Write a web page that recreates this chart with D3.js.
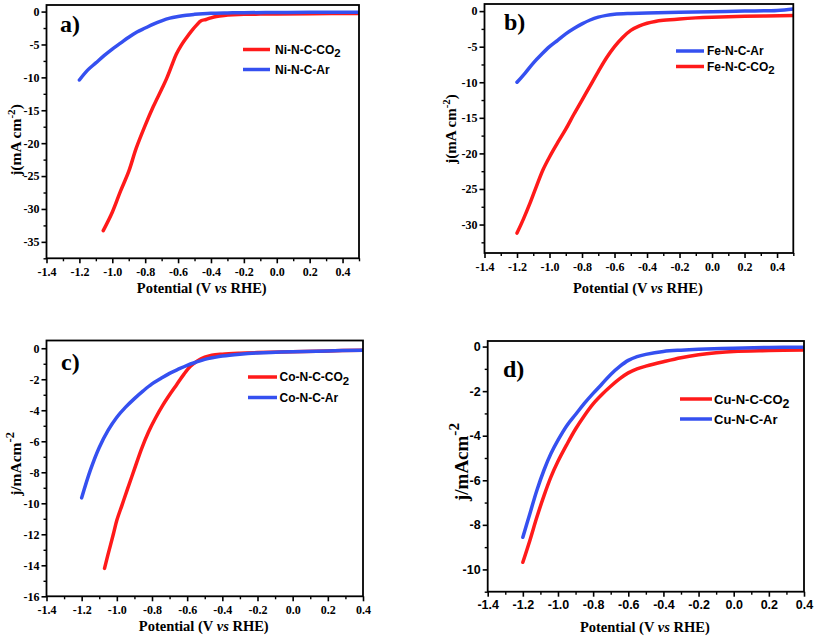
<!DOCTYPE html>
<html><head><meta charset="utf-8">
<script src="https://cdn.jsdelivr.net/npm/d3@7"></script>
<style>body{margin:0;background:#fff}</style></head>
<body><svg id="c" width="817" height="636"></svg>
<script>
// ---------- data ----------
const xTicks = [-1.4,-1.2,-1.0,-0.8,-0.6,-0.4,-0.2,0.0,0.2,0.4];
const aYTicks = [0,-5,-10,-15,-20,-25,-30,-35];
const bYTicks = [0,-5,-10,-15,-20,-25,-30];
const cYTicks = [0,-2,-4,-6,-8,-10,-12,-14,-16];
const dYTicks = [0,-2,-4,-6,-8,-10];

const panelLabels = ["a)","b)","c)","d)"];
const aLegend = ["Ni-N-C-CO2","Ni-N-C-Ar"];
const bLegend = ["Fe-N-C-Ar","Fe-N-C-CO2"];
const cLegend = ["Co-N-C-CO2","Co-N-C-Ar"];
const dLegend = ["Cu-N-C-CO2","Cu-N-C-Ar"];

// [potential V vs RHE, j]
const niCO2 = [[-1.055,-33.3],[-1.0,-30.5],[-0.95,-27.3],[-0.9,-24.3],[-0.855,-20.8],[-0.8,-17.3],[-0.75,-14.4],[-0.7,-11.8],[-0.672,-10.3],[-0.64,-8.3],[-0.611,-6.5],[-0.58,-5.1],[-0.55,-4.0],[-0.52,-3.0],[-0.489,-2.1],[-0.46,-1.4],[-0.43,-1.2],[-0.4,-0.95],[-0.367,-0.75],[-0.32,-0.6],[-0.266,-0.5],[-0.2,-0.42],[-0.1,-0.38],[0,-0.35],[0.2,-0.32],[0.5,-0.3]];
const niAr = [[-1.2,-10.4],[-1.15,-8.9],[-1.1,-7.8],[-1.05,-6.7],[-1.0,-5.7],[-0.95,-4.8],[-0.9,-3.9],[-0.85,-3.1],[-0.8,-2.5],[-0.75,-1.9],[-0.7,-1.4],[-0.65,-1.0],[-0.6,-0.75],[-0.55,-0.55],[-0.5,-0.42],[-0.45,-0.32],[-0.4,-0.25],[-0.3,-0.2],[-0.2,-0.17],[0,-0.14],[0.2,-0.12],[0.5,-0.1]];
const feAr = [[-1.2,-10.0],[-1.15,-8.7],[-1.1,-7.3],[-1.05,-6.1],[-1.0,-5.0],[-0.95,-4.1],[-0.9,-3.2],[-0.85,-2.45],[-0.8,-1.8],[-0.75,-1.25],[-0.7,-0.85],[-0.65,-0.6],[-0.6,-0.45],[-0.5,-0.33],[-0.4,-0.25],[-0.2,-0.17],[0,-0.08],[0.2,0.0],[0.4,0.1],[0.5,0.3]];
const feCO2 = [[-1.2,-31.2],[-1.16,-29.2],[-1.12,-27.0],[-1.08,-24.6],[-1.04,-22.3],[-1.0,-20.5],[-0.95,-18.5],[-0.9,-16.6],[-0.85,-14.5],[-0.8,-12.5],[-0.75,-10.5],[-0.7,-8.5],[-0.65,-6.6],[-0.6,-5.0],[-0.55,-3.7],[-0.5,-2.7],[-0.45,-2.1],[-0.4,-1.7],[-0.35,-1.45],[-0.3,-1.3],[-0.2,-1.1],[-0.1,-0.95],[0,-0.85],[0.2,-0.72],[0.5,-0.62]];
const coCO2 = [[-1.07,-14.2],[-1.05,-13.3],[-1.02,-12.0],[-1.0,-11.1],[-0.97,-10.1],[-0.94,-9.1],[-0.9,-7.8],[-0.86,-6.5],[-0.82,-5.4],[-0.78,-4.5],[-0.74,-3.7],[-0.7,-3.0],[-0.66,-2.35],[-0.62,-1.7],[-0.58,-1.15],[-0.54,-0.8],[-0.5,-0.58],[-0.46,-0.45],[-0.4,-0.38],[-0.3,-0.32],[-0.2,-0.28],[0,-0.22],[0.2,-0.17],[0.4,-0.13]];
const coAr = [[-1.2,-9.65],[-1.15,-7.85],[-1.1,-6.4],[-1.05,-5.3],[-1.0,-4.45],[-0.95,-3.8],[-0.9,-3.25],[-0.85,-2.75],[-0.8,-2.3],[-0.75,-1.95],[-0.7,-1.62],[-0.65,-1.35],[-0.6,-1.1],[-0.55,-0.9],[-0.5,-0.72],[-0.45,-0.6],[-0.4,-0.5],[-0.3,-0.38],[-0.2,-0.3],[0,-0.22],[0.2,-0.17],[0.4,-0.13]];
const cuCO2 = [[-1.2,-9.68],[-1.16,-8.7],[-1.12,-7.65],[-1.08,-6.7],[-1.04,-5.85],[-1.0,-5.15],[-0.95,-4.4],[-0.9,-3.7],[-0.85,-3.1],[-0.8,-2.57],[-0.75,-2.15],[-0.7,-1.78],[-0.65,-1.45],[-0.6,-1.18],[-0.55,-1.0],[-0.5,-0.88],[-0.4,-0.68],[-0.3,-0.5],[-0.2,-0.37],[-0.1,-0.28],[0,-0.22],[0.2,-0.18],[0.4,-0.15]];
const cuAr = [[-1.2,-8.56],[-1.16,-7.5],[-1.12,-6.45],[-1.08,-5.55],[-1.04,-4.8],[-1.0,-4.2],[-0.95,-3.55],[-0.9,-3.05],[-0.85,-2.55],[-0.8,-2.1],[-0.75,-1.68],[-0.7,-1.25],[-0.65,-0.9],[-0.6,-0.62],[-0.55,-0.45],[-0.5,-0.35],[-0.4,-0.22],[-0.3,-0.16],[-0.2,-0.12],[0,-0.07],[0.2,-0.04],[0.4,-0.03]];

// ---------- layout ----------
const RED = "#ff1a1a", BLUE = "#3550f0";
const SERIF = "'Liberation Serif','Times New Roman',serif";
const SANS = "'Liberation Sans',Arial,sans-serif";
const svg = d3.select("#c");

const panels = [
  {id:"a", label:panelLabels[0], L:46.5, R:359, T:5, B:258.3, xd:[-1.4,0.5], yd:[-37.5,1], yt:aYTicks, yMinorStep:2.5,
   series:[{d:niCO2,c:RED},{d:niAr,c:BLUE}], legend:aLegend, legC:[RED,BLUE],
   leg:{x0:243,x1:270,y0:49.5,dy:20,tx:275,fs:12}, tickFont:SERIF, tfs:12,
   ytitle:{x:16,y:140,fs:15.5,kind:"paren"}, xtitleY:293, lab:{x:60,y:32}},
  {id:"b", label:panelLabels[1], L:484.5, R:793.3, T:4, B:253, xd:[-1.4,0.5], yd:[-34,1], yt:bYTicks, yMinorStep:2.5,
   series:[{d:feCO2,c:RED},{d:feAr,c:BLUE}], legend:bLegend, legC:[BLUE,RED],
   leg:{x0:676,x1:704,y0:51,dy:15.5,tx:707,fs:12}, tickFont:SERIF, tfs:12,
   ytitle:{x:451,y:129,fs:15,kind:"paren"}, xtitleY:293, lab:{x:504,y:30}},
  {id:"c", label:panelLabels[2], L:46.5, R:363, T:340.5, B:596.3, xd:[-1.4,0.4], yd:[-16,0.5], yt:cYTicks, yMinorStep:1,
   series:[{d:coCO2,c:RED},{d:coAr,c:BLUE}], legend:cLegend, legC:[RED,BLUE],
   leg:{x0:248,x1:277,y0:377,dy:20.5,tx:279.5,fs:12}, tickFont:SERIF, tfs:12,
   ytitle:{x:16,y:464,fs:15.5,kind:"slash"}, xtitleY:631, lab:{x:61,y:370}},
  {id:"d", label:panelLabels[3], L:487.7, R:804, T:341, B:591.7, xd:[-1.4,0.4], yd:[-11,0.25], yt:dYTicks, yMinorStep:1,
   series:[{d:cuCO2,c:RED},{d:cuAr,c:BLUE}], legend:dLegend, legC:[RED,BLUE],
   leg:{x0:680,x1:712,y0:399,dy:20,tx:714,fs:13}, tickFont:SANS, tfs:12.5,
   ytitle:{x:461,y:462,fs:19,kind:"slash"}, xtitleY:632, lab:{x:503,y:377}}
];

const fmt = v => { const s = d3.format(".1f")(Math.abs(v)); return (v < -1e-9 ? "-" : "") + s; };
const fmtY = v => (v < 0 ? "-" : "") + Math.abs(v);

panels.forEach((p, pi) => {
  const x = d3.scaleLinear().domain(p.xd).range([p.L, p.R]);
  const y = d3.scaleLinear().domain(p.yd).range([p.B, p.T]);
  const g = svg.append("g");

  const cid = "clip" + p.id;
  svg.append("clipPath").attr("id", cid).append("rect")
    .attr("x", p.L).attr("y", p.T).attr("width", p.R - p.L).attr("height", p.B - p.T);

  const line = d3.line().x(d => x(d[0])).y(d => y(d[1])).curve(d3.curveCatmullRom.alpha(0.5));
  p.series.forEach(s => {
    g.append("path").attr("d", line(s.d)).attr("fill", "none")
      .attr("stroke", s.c).attr("stroke-width", 3.5).attr("stroke-linecap", "round")
      .attr("stroke-linejoin", "round").attr("clip-path", `url(#${cid})`);
  });

  const xMinor = d3.range(Math.round(p.xd[0]*10), Math.round(p.xd[1]*10) + 1).map(v => v / 10)
    .filter(v => !xTicks.some(t => Math.abs(t - v) < 1e-9));
  const xAxis = d3.axisBottom(x).tickValues(xTicks).tickFormat(fmt).tickSize(5).tickSizeOuter(0);
  const gx = g.append("g").attr("transform", `translate(0,${p.B})`).call(xAxis);
  gx.select(".domain").remove();
  gx.selectAll(".tick line").attr("stroke", "#000").attr("stroke-width", 1.6);
  gx.selectAll(".tick text").attr("font-family", p.tickFont).attr("font-weight", "bold")
    .attr("font-size", p.tfs).attr("fill", "#000").attr("dy", null).attr("y", 17.5);
  const gxm = g.append("g").attr("transform", `translate(0,${p.B})`)
    .call(d3.axisBottom(x).tickValues(xMinor).tickFormat("").tickSize(3).tickSizeOuter(0));
  gxm.select(".domain").remove();
  gxm.selectAll(".tick line").attr("stroke", "#000").attr("stroke-width", 1.4);

  const yAxis = d3.axisLeft(y).tickValues(p.yt).tickFormat(fmtY).tickSize(5).tickSizeOuter(0);
  const gy = g.append("g").attr("transform", `translate(${p.L},0)`).call(yAxis);
  gy.select(".domain").remove();
  gy.selectAll(".tick line").attr("stroke", "#000").attr("stroke-width", 1.6);
  gy.selectAll(".tick text").attr("font-family", p.tickFont).attr("font-weight", "bold")
    .attr("font-size", p.tfs).attr("fill", "#000").attr("x", -7);
  const yMinor = [];
  for (let v = 0; v >= p.yd[0] - 1e-9; v -= p.yMinorStep) {
    if (!p.yt.some(t => Math.abs(t - v) < 1e-9)) yMinor.push(+v.toFixed(3));
  }
  const gym = g.append("g").attr("transform", `translate(${p.L},0)`)
    .call(d3.axisLeft(y).tickValues(yMinor).tickFormat("").tickSize(3).tickSizeOuter(0));
  gym.select(".domain").remove();
  gym.selectAll(".tick line").attr("stroke", "#000").attr("stroke-width", 1.4);

  g.append("rect").attr("x", p.L).attr("y", p.T).attr("width", p.R - p.L).attr("height", p.B - p.T)
    .attr("fill", "none").attr("stroke", "#000").attr("stroke-width", 1.8);

  g.append("text").attr("x", p.lab.x).attr("y", p.lab.y).text(p.label)
    .attr("font-family", SERIF).attr("font-weight", "bold").attr("font-size", 24).attr("fill", "#000");

  p.legend.forEach((name, i) => {
    const yy = p.leg.y0 + i * p.leg.dy;
    g.append("line").attr("x1", p.leg.x0).attr("x2", p.leg.x1).attr("y1", yy).attr("y2", yy)
      .attr("stroke", p.legC[i]).attr("stroke-width", 3.5);
    const t = g.append("text").attr("x", p.leg.tx).attr("y", yy + p.leg.fs * 0.36)
      .attr("font-family", SANS).attr("font-weight", "bold").attr("font-size", p.leg.fs).attr("fill", "#000");
    if (name.endsWith("CO2")) {
      t.append("tspan").text(name.slice(0, -1));
      t.append("tspan").text("2").attr("dy", p.leg.fs * 0.3).attr("font-size", p.leg.fs * 0.95);
    } else t.text(name);
  });

  const xt = g.append("text").attr("x", (p.L + p.R) / 2 - 1).attr("y", p.xtitleY).attr("text-anchor", "middle")
    .attr("font-family", SERIF).attr("font-weight", "bold").attr("font-size", 14.5).attr("fill", "#000");
  xt.append("tspan").text("Potential (V ");
  xt.append("tspan").text("vs").attr("font-style", "italic");
  xt.append("tspan").text(" RHE)");

  const yt = g.append("text").attr("transform", `translate(${p.ytitle.x + p.ytitle.fs * 0.35},${p.ytitle.y}) rotate(-90)`)
    .attr("text-anchor", "middle").attr("font-family", SERIF).attr("font-weight", "bold")
    .attr("font-size", p.ytitle.fs).attr("fill", "#000");
  const fs = p.ytitle.fs;
  if (p.ytitle.kind === "paren") {
    yt.append("tspan").text("j(mA cm");
    yt.append("tspan").text("-2").attr("font-size", fs * 0.72).attr("dy", -fs * 0.4);
    yt.append("tspan").text(")").attr("dy", fs * 0.4);
  } else {
    yt.append("tspan").text("j/mAcm");
    yt.append("tspan").text("-2").attr("font-size", fs * 0.8).attr("dy", -fs * 0.45);
  }
});
</script></body></html>
